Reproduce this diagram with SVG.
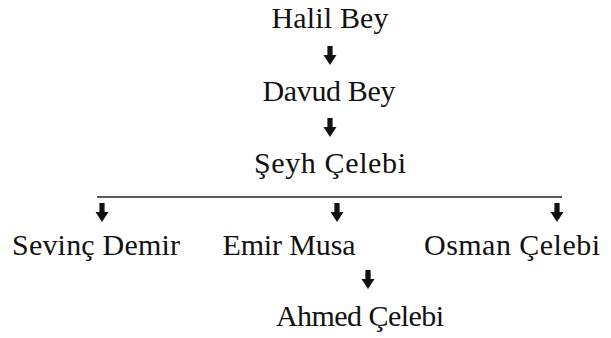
<svg xmlns="http://www.w3.org/2000/svg" width="611" height="338" viewBox="0 0 611 338">
<style>
text{font-family:"Liberation Serif","DejaVu Serif",serif;font-size:30px;fill:#111;text-anchor:middle}
.arr{fill:#111}
.ln{stroke:#222;stroke-width:1.6;fill:none}
</style>
<defs>
<path id="ar" class="arr" d="M-2.6,0 H2.6 V9 H6.5 L0,19 L-6.5,9 H-2.6 Z"/>
</defs>
<rect width="611" height="338" fill="#fff"/>
<g id="n-halil"><text x="330" y="28" textLength="117">Halil Bey</text></g>
<g id="n-davud"><text x="329" y="101" textLength="133">Davud Bey</text></g>
<g id="n-seyh"><text x="330" y="173" textLength="152">Şeyh Çelebi</text></g>
<g id="n-sevinc"><text x="96" y="255" textLength="168">Sevinç Demir</text></g>
<g id="n-emir"><text x="289" y="255" textLength="133">Emir Musa</text></g>
<g id="n-osman"><text x="512" y="255" textLength="176">Osman Çelebi</text></g>
<g id="n-ahmed"><text x="360" y="326" textLength="168">Ahmed Çelebi</text></g>
<g id="connectors">
<use href="#ar" x="330" y="46"/>
<use href="#ar" x="330" y="118"/>
<line class="ln" x1="97" y1="197" x2="562" y2="197"/>
<use href="#ar" x="102" y="203"/>
<use href="#ar" x="337" y="203"/>
<use href="#ar" x="557" y="203"/>
<use href="#ar" x="368" y="270"/>
</g>
</svg>
